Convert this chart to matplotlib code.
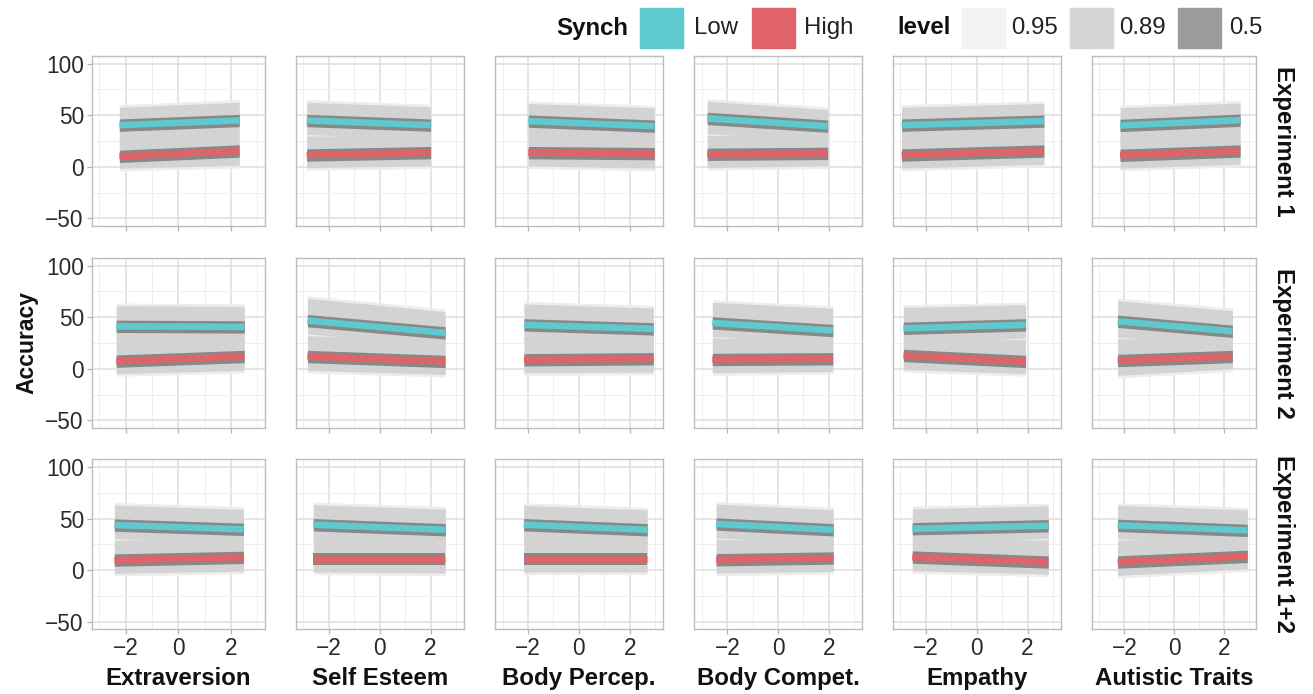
import matplotlib
matplotlib.use("Agg")
import matplotlib.pyplot as plt
from matplotlib.patches import Rectangle

plt.rcParams['font.family'] = ['Liberation Sans', 'DejaVu Sans']

W, H = 1313, 694

experiments = ["Experiment 1", "Experiment 2", "Experiment 1+2"]
traits = ["Extraversion", "Self Esteem", "Body Percep.", "Body Compet.", "Empathy", "Autistic Traits"]
synch_labels = ["Low", "High"]
level_labels = ["0.95", "0.89", "0.5"]

# x range of each prediction line (rows = experiments, cols = traits)
x_min = [[-2.24, -2.87, -1.99, -2.79, -2.95, -2.17],
         [-2.36, -2.84, -2.16, -2.59, -2.88, -2.27],
         [-2.43, -2.61, -2.17, -2.44, -2.53, -2.27]]
x_max = [[2.32, 2.00, 2.97, 1.96, 2.64, 2.66],
         [2.51, 2.57, 2.93, 2.16, 1.92, 2.35],
         [2.48, 2.58, 2.69, 2.18, 2.81, 2.95]]

# mean accuracy, Low synch, at x_min / x_max
low_l = [[40.4, 44.9, 44.3, 46.9, 40.4, 40.1],
         [41.2, 46.7, 42.6, 44.5, 39.3, 46.1],
         [43.7, 44.0, 44.0, 44.7, 40.1, 43.4]]
low_r = [[44.9, 40.4, 39.4, 39.4, 44.3, 45.2],
         [40.6, 34.8, 38.7, 37.1, 42.6, 36.4],
         [39.5, 39.1, 39.1, 39.1, 43.0, 38.5]]
# mean accuracy, High synch
high_l = [[10.1, 11.4, 13.7, 12.1, 11.4, 11.1],
          [7.4, 11.9, 8.7, 9.0, 12.9, 8.0],
          [9.7, 11.0, 11.0, 10.0, 12.6, 7.8]]
high_r = [[15.3, 13.7, 12.7, 13.0, 15.3, 15.3],
          [11.9, 7.1, 9.7, 9.7, 7.1, 11.9],
          [12.3, 11.0, 11.0, 11.7, 7.8, 13.3]]

# 0.89 interval: upper bound of Low, lower bound of High
low_up89_l = [[57.8, 62.6, 61.4, 63.6, 57.8, 57.2],
              [61.3, 68.4, 62.9, 64.5, 59.6, 66.1],
              [63.1, 63.4, 62.8, 64.1, 59.5, 62.8]]
low_up89_r = [[62.6, 58.2, 57.2, 55.6, 61.4, 62.0],
              [60.6, 55.5, 59.0, 58.7, 62.2, 56.4],
              [58.9, 59.2, 58.5, 58.5, 62.4, 58.5]]
high_lo89_l = [[-1.5, -0.8, 0.8, -0.8, -1.4, -1.4],
               [-4.8, -1.6, -3.9, -3.9, -0.7, -6.5],
               [-3.2, -1.9, -1.9, -2.9, -0.7, -5.2]]
high_lo89_r = [[1.4, 0.8, -1.4, 0.8, 2.4, 2.4],
               [-1.6, -5.5, -3.3, -2.6, -4.8, 0.0],
               [-1.0, -2.9, -1.9, -1.3, -3.9, 1.0]]
# 0.89 interval: lower bound of Low, upper bound of High
low_lo89_l = [[26, 31.5, 27, 32.2, 25, 25],
              [26, 33.8, 27, 31.4, 24, 30.8],
              [30.8, 28, 28, 31.2, 25, 30.8]]
low_lo89_r = [[29, 25, 24, 24, 28, 29],
              [25, 22, 24, 23, 29.8, 22],
              [25, 25, 25, 25, 30.8, 23]]
high_up89_l = [[28, 29.9, 31, 30.6, 28, 28],
               [28, 32.2, 29, 29.8, 29, 29.2],
               [29.2, 30, 30, 29.6, 30, 29.2]]
high_up89_r = [[32, 30, 28, 29, 32, 32],
               [29, 27, 27, 28, 28.2, 29],
               [30, 28, 28, 29, 29.2, 30]]
# half-widths
half_50 = 6.0
extra_95 = 2.5

col_low = "#5FC9D0"
col_high = "#DF6369"
band_cols = {"0.95": "#EDEDED", "0.89": "#D3D3D3", "0.5": "#888888"}
legend_band_cols = {"0.95": "#F4F4F4", "0.89": "#D6D6D6", "0.5": "#9B9B9B"}

col_px = [(91.5, 265), (295.7, 463.7), (495, 662.7), (694.3, 861.7), (892.7, 1060.7), (1092, 1256)]
row_px = [(56, 226), (258, 428), (459.3, 629.3)]

fig = plt.figure(figsize=(W / 100, H / 100), dpi=100)
tick_col = "#2b2b2b"
title_fs = 17.3
tick_fs = 16.3
legend_fs = 17.3

for r in range(3):
    for c in range(6):
        x0, x1 = col_px[c]
        y0, y1 = row_px[r]
        ax = fig.add_axes([x0 / W, 1 - y1 / H, (x1 - x0) / W, (y1 - y0) / H])
        ax.set_xlim(-3.3, 3.3)
        ax.set_ylim(-57.5, 107.5)
        ax.set_xticks([-2, 0, 2])
        ax.set_xticks([-3, -1, 1, 3], minor=True)
        ax.set_yticks([-50, 0, 50, 100])
        ax.set_yticks([-25, 25, 75], minor=True)
        ax.grid(which='major', color='#DEDEDE', lw=1.1)
        ax.grid(which='minor', color='#EEEEEE', lw=0.7)
        ax.set_axisbelow(True)
        for s in ax.spines.values():
            s.set_color('#BDBDBD')
            s.set_linewidth(1.0)
        ax.tick_params(which='minor', length=0)
        ax.tick_params(which='major', length=3.5, color='#B3B3B3', width=0.9,
                       labelsize=tick_fs, labelcolor=tick_col, pad=2)
        if c != 0:
            ax.tick_params(axis='y', left=False, labelleft=False)
        if r != 2:
            ax.tick_params(axis='x', labelbottom=False)
        else:
            ax.set_xlabel(traits[c], fontsize=title_fs, fontweight='bold', labelpad=5, color='#111111')

        xs = [x_min[r][c], x_max[r][c]]
        lm = [low_l[r][c], low_r[r][c]]
        hm = [high_l[r][c], high_r[r][c]]
        lup = [low_up89_l[r][c], low_up89_r[r][c]]
        llo = [low_lo89_l[r][c], low_lo89_r[r][c]]
        hup = [high_up89_l[r][c], high_up89_r[r][c]]
        hlo = [high_lo89_l[r][c], high_lo89_r[r][c]]

        # 0.95
        for lo, up in [(llo, lup), (hlo, hup)]:
            ax.fill_between(xs, [v - extra_95 for v in lo], [v + extra_95 for v in up],
                            color=band_cols["0.95"], lw=0, zorder=2)
        # 0.89
        for lo, up in [(llo, lup), (hlo, hup)]:
            ax.fill_between(xs, lo, up, color=band_cols["0.89"], lw=0, zorder=3)
        # 0.5
        for m in (lm, hm):
            ax.fill_between(xs, [v - half_50 for v in m], [v + half_50 for v in m],
                            color=band_cols["0.5"], lw=0, zorder=4)
        ax.plot(xs, lm, color=col_low, lw=4.7, solid_capstyle='butt', zorder=5)
        ax.plot(xs, hm, color=col_high, lw=4.7, solid_capstyle='butt', zorder=5)

# strip labels
for r in range(3):
    y0, y1 = row_px[r]
    fig.text(1284 / W, 1 - (y0 + y1) / 2 / H, experiments[r], rotation=270,
             ha='center', va='center', fontsize=title_fs, fontweight='bold', color='#111111')

# y label
fig.text(27 / W, 1 - 342.6 / H, "Accuracy", rotation=90, ha='center', va='center',
         fontsize=16.5, fontweight='bold', color='#111111')

# legend
ly = 28
fig.text(556 / W, 1 - ly / H, "Synch", ha='left', va='center', fontsize=legend_fs,
         fontweight='bold', color='#111111')
legend_items = [(640, col_low, synch_labels[0], 694), (752, col_high, synch_labels[1], 804)]
for bx, colr, lab, tx in legend_items:
    fig.patches.append(Rectangle((bx / W, 1 - 48 / H), 43 / W, 40 / H, transform=fig.transFigure,
                                 color=colr, zorder=1))
    fig.text(tx / W, 1 - ly / H, lab, ha='left', va='center', fontsize=legend_fs, color='#222222')
fig.text(897 / W, 1 - ly / H, "level", ha='left', va='center', fontsize=legend_fs,
         fontweight='bold', color='#111111')
lvl_items = [(962, "0.95", 1011), (1070, "0.89", 1119), (1178, "0.5", 1229)]
for bx, lab, tx in lvl_items:
    fig.patches.append(Rectangle((bx / W, 1 - 48 / H), 43 / W, 40 / H, transform=fig.transFigure,
                                 color=legend_band_cols[lab], zorder=1))
    fig.text(tx / W, 1 - ly / H, lab, ha='left', va='center', fontsize=legend_fs, color='#222222')

fig.savefig("out.png", dpi=100)
